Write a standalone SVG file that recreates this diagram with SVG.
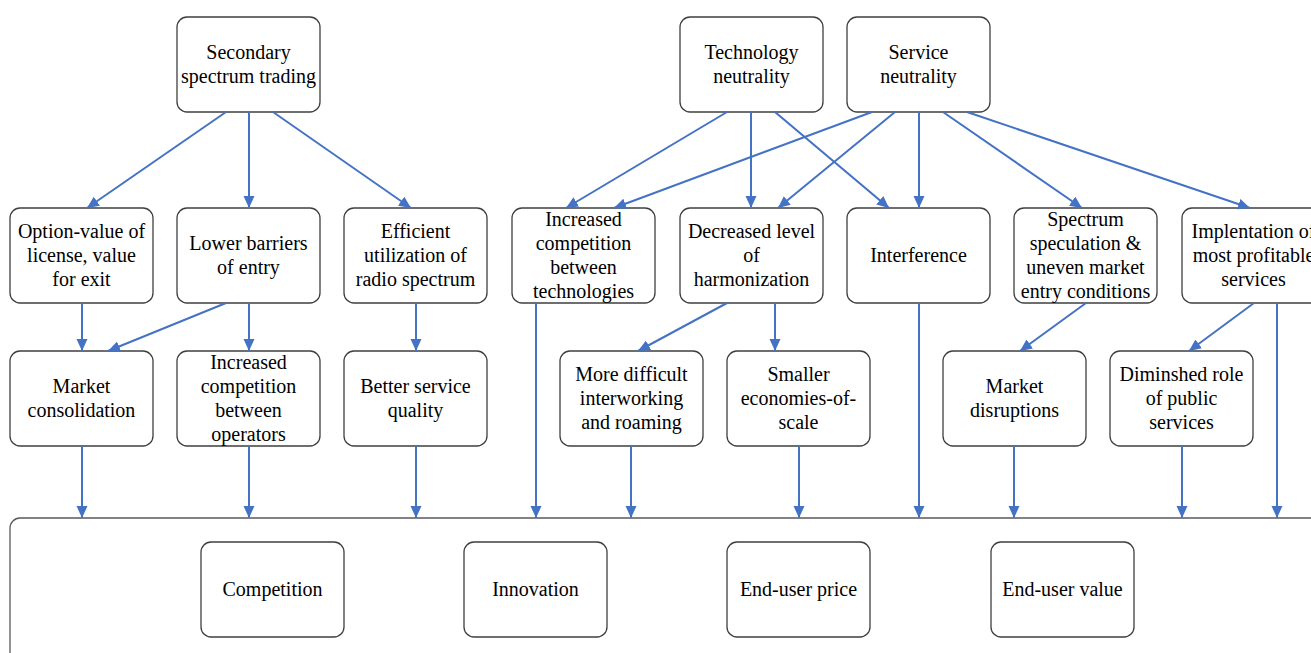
<svg xmlns="http://www.w3.org/2000/svg" width="1311" height="653" viewBox="0 0 1311 653">
  <style>
    .box { fill: #ffffff; stroke: #3f3f3f; stroke-width: 1.3; }
    .frame { fill: #ffffff; stroke: #595959; stroke-width: 1.3; }
    .lbl { font-family: "Liberation Serif", "Times New Roman", serif; font-size: 20px; fill: #000000; text-anchor: middle; }
    .edge { stroke: #4472C4; stroke-width: 2; fill: none; marker-end: url(#arrow); }
  </style>
  <defs>
    <marker id="arrow" markerUnits="userSpaceOnUse" markerWidth="13" markerHeight="12" refX="12" refY="5.5" orient="auto">
      <path d="M0,0 L12,5.5 L0,11 z" fill="#4472C4"/>
    </marker>
  </defs>
  <rect width="1311" height="653" fill="#ffffff"/>

  <!-- outcome frame -->
  <g id="outcomes">
    <rect class="frame" x="10" y="518" width="1400" height="200" rx="10"/>
  </g>

  <!-- top-level policy nodes -->
  <g id="secondary-trading">
    <rect class="box" x="177" y="17" width="143" height="95" rx="10"/>
    <text class="lbl" x="248.5" y="58.5">Secondary</text>
    <text class="lbl" x="248.5" y="82.5">spectrum trading</text>
  </g>
  <g id="technology-neutrality">
    <rect class="box" x="680" y="17" width="143" height="95" rx="10"/>
    <text class="lbl" x="751.5" y="58.5">Technology</text>
    <text class="lbl" x="751.5" y="82.5">neutrality</text>
  </g>
  <g id="service-neutrality">
    <rect class="box" x="847" y="17" width="143" height="95" rx="10"/>
    <text class="lbl" x="918.5" y="58.5">Service</text>
    <text class="lbl" x="918.5" y="82.5">neutrality</text>
  </g>

  <!-- first-order effects -->
  <g id="option-value">
    <rect class="box" x="10" y="208" width="143" height="95" rx="10"/>
    <text class="lbl" x="81.5" y="238">Option-value of</text>
    <text class="lbl" x="81.5" y="262">license, value</text>
    <text class="lbl" x="81.5" y="286">for exit</text>
  </g>
  <g id="lower-barriers">
    <rect class="box" x="177" y="208" width="143" height="95" rx="10"/>
    <text class="lbl" x="248.5" y="250">Lower barriers</text>
    <text class="lbl" x="248.5" y="274">of entry</text>
  </g>
  <g id="efficient-utilization">
    <rect class="box" x="344" y="208" width="143" height="95" rx="10"/>
    <text class="lbl" x="415.5" y="238">Efficient</text>
    <text class="lbl" x="415.5" y="262">utilization of</text>
    <text class="lbl" x="415.5" y="286">radio spectrum</text>
  </g>
  <g id="competition-technologies">
    <rect class="box" x="512" y="208" width="143" height="95" rx="10"/>
    <text class="lbl" x="583.5" y="226">Increased</text>
    <text class="lbl" x="583.5" y="250">competition</text>
    <text class="lbl" x="583.5" y="274">between</text>
    <text class="lbl" x="583.5" y="298">technologies</text>
  </g>
  <g id="decreased-harmonization">
    <rect class="box" x="680" y="208" width="143" height="95" rx="10"/>
    <text class="lbl" x="751.5" y="238">Decreased level</text>
    <text class="lbl" x="751.5" y="262">of</text>
    <text class="lbl" x="751.5" y="286">harmonization</text>
  </g>
  <g id="interference">
    <rect class="box" x="847" y="208" width="143" height="95" rx="10"/>
    <text class="lbl" x="918.5" y="262">Interference</text>
  </g>
  <g id="spectrum-speculation">
    <rect class="box" x="1014" y="208" width="143" height="95" rx="10"/>
    <text class="lbl" x="1085.5" y="226">Spectrum</text>
    <text class="lbl" x="1085.5" y="250">speculation &amp;</text>
    <text class="lbl" x="1085.5" y="274">uneven market</text>
    <text class="lbl" x="1085.5" y="298">entry conditions</text>
  </g>
  <g id="profitable-services">
    <rect class="box" x="1182" y="208" width="143" height="95" rx="10"/>
    <text class="lbl" x="1253.5" y="238">Implentation of</text>
    <text class="lbl" x="1253.5" y="262">most profitable</text>
    <text class="lbl" x="1253.5" y="286">services</text>
  </g>

  <!-- second-order effects -->
  <g id="market-consolidation">
    <rect class="box" x="10" y="351" width="143" height="95" rx="10"/>
    <text class="lbl" x="81.5" y="393">Market</text>
    <text class="lbl" x="81.5" y="417">consolidation</text>
  </g>
  <g id="competition-operators">
    <rect class="box" x="177" y="351" width="143" height="95" rx="10"/>
    <text class="lbl" x="248.5" y="369">Increased</text>
    <text class="lbl" x="248.5" y="393">competition</text>
    <text class="lbl" x="248.5" y="417">between</text>
    <text class="lbl" x="248.5" y="441">operators</text>
  </g>
  <g id="service-quality">
    <rect class="box" x="344" y="351" width="143" height="95" rx="10"/>
    <text class="lbl" x="415.5" y="393">Better service</text>
    <text class="lbl" x="415.5" y="417">quality</text>
  </g>
  <g id="interworking-roaming">
    <rect class="box" x="560" y="351" width="143" height="95" rx="10"/>
    <text class="lbl" x="631.5" y="381">More difficult</text>
    <text class="lbl" x="631.5" y="405">interworking</text>
    <text class="lbl" x="631.5" y="429">and roaming</text>
  </g>
  <g id="economies-of-scale">
    <rect class="box" x="727" y="351" width="143" height="95" rx="10"/>
    <text class="lbl" x="798.5" y="381">Smaller</text>
    <text class="lbl" x="798.5" y="405">economies-of-</text>
    <text class="lbl" x="798.5" y="429">scale</text>
  </g>
  <g id="market-disruptions">
    <rect class="box" x="943" y="351" width="143" height="95" rx="10"/>
    <text class="lbl" x="1014.5" y="393">Market</text>
    <text class="lbl" x="1014.5" y="417">disruptions</text>
  </g>
  <g id="public-services">
    <rect class="box" x="1110" y="351" width="143" height="95" rx="10"/>
    <text class="lbl" x="1181.5" y="381">Diminshed role</text>
    <text class="lbl" x="1181.5" y="405">of public</text>
    <text class="lbl" x="1181.5" y="429">services</text>
  </g>

  <!-- outcome nodes -->
  <g id="competition">
    <rect class="box" x="201" y="542" width="143" height="95" rx="10"/>
    <text class="lbl" x="272.5" y="596">Competition</text>
  </g>
  <g id="innovation">
    <rect class="box" x="464" y="542" width="143" height="95" rx="10"/>
    <text class="lbl" x="535.5" y="596">Innovation</text>
  </g>
  <g id="end-user-price">
    <rect class="box" x="727" y="542" width="143" height="95" rx="10"/>
    <text class="lbl" x="798.5" y="596">End-user price</text>
  </g>
  <g id="end-user-value">
    <rect class="box" x="991" y="542" width="143" height="95" rx="10"/>
    <text class="lbl" x="1062.5" y="596">End-user value</text>
  </g>

  <!-- connectors -->
  <g id="connectors">
    <line class="edge" x1="226" y1="112" x2="87" y2="208"/>
    <line class="edge" x1="249" y1="112" x2="249" y2="208"/>
    <line class="edge" x1="273" y1="112" x2="411" y2="208"/>

    <line class="edge" x1="727" y1="112" x2="566" y2="208"/>
    <line class="edge" x1="751" y1="112" x2="751" y2="208"/>
    <line class="edge" x1="775" y1="112" x2="889" y2="208"/>

    <line class="edge" x1="872" y1="112" x2="614" y2="208"/>
    <line class="edge" x1="895" y1="112" x2="778" y2="208"/>
    <line class="edge" x1="919" y1="112" x2="919" y2="208"/>
    <line class="edge" x1="943" y1="112" x2="1082" y2="208"/>
    <line class="edge" x1="967" y1="112" x2="1250" y2="208"/>

    <line class="edge" x1="82" y1="303" x2="82" y2="351"/>
    <line class="edge" x1="226" y1="303" x2="108" y2="351"/>
    <line class="edge" x1="249" y1="303" x2="249" y2="351"/>
    <line class="edge" x1="416" y1="303" x2="416" y2="351"/>
    <line class="edge" x1="727" y1="303" x2="638" y2="351"/>
    <line class="edge" x1="775" y1="303" x2="775" y2="351"/>
    <line class="edge" x1="1086" y1="303" x2="1020" y2="351"/>
    <line class="edge" x1="1254" y1="303" x2="1189" y2="351"/>

    <line class="edge" x1="536" y1="303" x2="536" y2="518"/>
    <line class="edge" x1="919" y1="303" x2="919" y2="518"/>
    <line class="edge" x1="1277" y1="303" x2="1277" y2="518"/>

    <line class="edge" x1="82" y1="446" x2="82" y2="518"/>
    <line class="edge" x1="249" y1="446" x2="249" y2="518"/>
    <line class="edge" x1="416" y1="446" x2="416" y2="518"/>
    <line class="edge" x1="631" y1="446" x2="631" y2="518"/>
    <line class="edge" x1="799" y1="446" x2="799" y2="518"/>
    <line class="edge" x1="1014" y1="446" x2="1014" y2="518"/>
    <line class="edge" x1="1182" y1="446" x2="1182" y2="518"/>
  </g>
</svg>
